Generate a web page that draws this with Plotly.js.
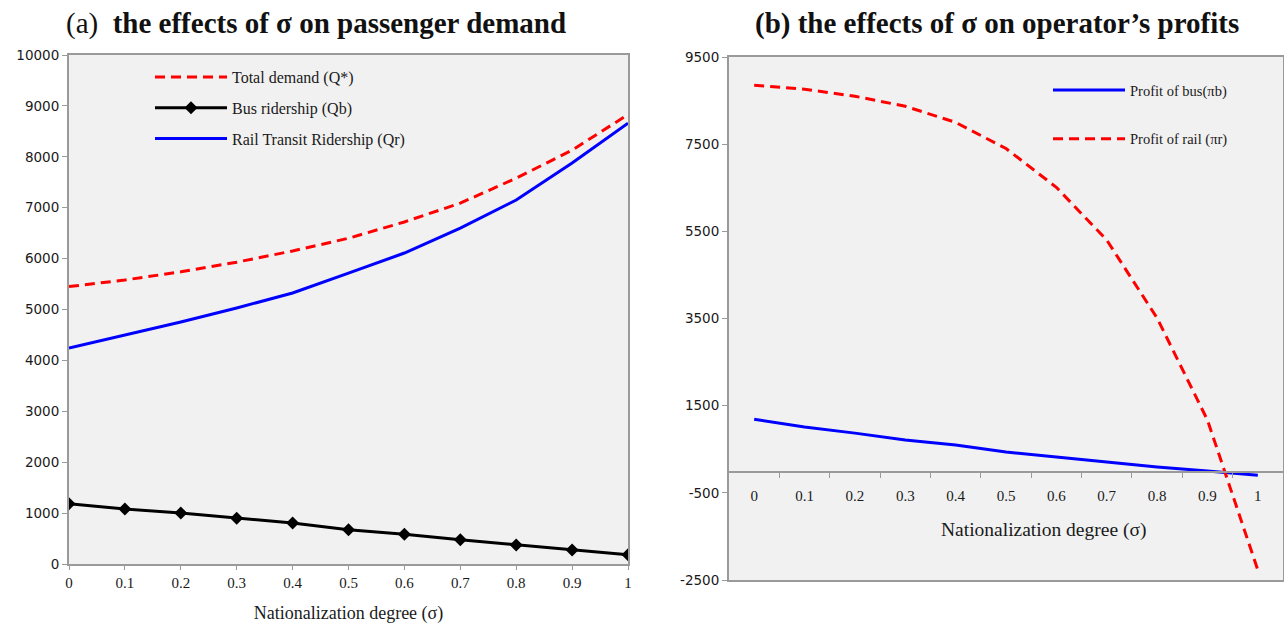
<!DOCTYPE html>
<html>
<head>
<meta charset="utf-8">
<script src="https://cdn.plot.ly/plotly-3.0.1.min.js"></script>
<style>html,body{margin:0;padding:0;background:#fff;}#chart{width:1284px;height:627px;}</style>
</head>
<body>
<div id="chart"></div>
<script>
// ---- data ----
const sigma = [0, 0.1, 0.2, 0.3, 0.4, 0.5, 0.6, 0.7, 0.8, 0.9, 1];
const sigmaTickLabels = ['0', '0.1', '0.2', '0.3', '0.4', '0.5', '0.6', '0.7', '0.8', '0.9', '1'];
const totalDemand = [5450, 5580, 5740, 5930, 6150, 6400, 6720, 7090, 7580, 8130, 8830];
const busRidership = [1185, 1080, 1000, 900, 805, 675, 585, 475, 375, 275, 180];
const railRidership = [4245, 4500, 4755, 5030, 5325, 5715, 6110, 6600, 7150, 7880, 8660];
const busProfit = [1190, 1010, 870, 710, 595, 435, 320, 205, 95, 0, -95];
const railProfit = [8850, 8760, 8600, 8370, 8000, 7400, 6510, 5300, 3510, 1170, -2270];
const demandTicks = [0, 1000, 2000, 3000, 4000, 5000, 6000, 7000, 8000, 9000, 10000];
const profitTicks = [-2500, -500, 1500, 3500, 5500, 7500, 9500];
const profitBetweenTicks = [0.05, 0.15, 0.25, 0.35, 0.45, 0.55, 0.65, 0.75, 0.85, 0.95];

const W = 1284, H = 627;
const serif = 'Liberation Serif, Times New Roman, serif';
const sans = 'DejaVu Sans, Tahoma, sans-serif';
const txt = '#1a1a1a';
const grey = '#9a9a9a';

// plot boxes (px)
const L = {x0: 69, x1: 628, y0: 55, y1: 564};
const R = {x0: 729, x1: 1283, y0: 57, y1: 580};
const dx = b => [b.x0 / W, b.x1 / W];
const dy = b => [(H - b.y1) / H, (H - b.y0) / H];
const rDom = dy(R);
const profitRange = [-2500, 9500];
const zeroPos = rDom[0] + (0 - profitRange[0]) / (profitRange[1] - profitRange[0]) * (rDom[1] - rDom[0]);

const traces = [
  {x: sigma, y: totalDemand, name: 'Total demand (Q*)', type: 'scatter', mode: 'lines',
   line: {color: '#ff0000', width: 3, dash: '10px,6px'}, xaxis: 'x', yaxis: 'y',
   legend: 'legend', legendgroup: 'a1'},
  {x: sigma, y: busRidership, name: 'Bus ridership (Qb)', type: 'scatter', mode: 'lines+markers',
   line: {color: '#000000', width: 3}, marker: {symbol: 'diamond', size: 10, color: '#000000'},
   xaxis: 'x', yaxis: 'y', legend: 'legend', legendgroup: 'a2'},
  {x: sigma, y: railRidership, name: 'Rail Transit Ridership (Qr)', type: 'scatter', mode: 'lines',
   line: {color: '#0000ff', width: 3}, xaxis: 'x', yaxis: 'y', legend: 'legend', legendgroup: 'a3'},
  {x: sigma, y: busProfit, name: 'Profit of bus(πb)', type: 'scatter', mode: 'lines',
   line: {color: '#0000ff', width: 3}, xaxis: 'x2', yaxis: 'y2', legend: 'legend2', legendgroup: 'b1'},
  {x: sigma, y: railProfit, name: 'Profit of rail (πr)', type: 'scatter', mode: 'lines',
   line: {color: '#ff0000', width: 3, dash: '10px,6px'}, xaxis: 'x2', yaxis: 'y2', legend: 'legend2', legendgroup: 'b2'},
  {x: sigma, y: busProfit, type: 'scatter', mode: 'lines', showlegend: false, hoverinfo: 'skip',
   line: {color: 'rgba(0,0,0,0)', width: 0}, xaxis: 'x3', yaxis: 'y2'}
];

const layout = {
  width: W, height: H,
  margin: {l: 0, r: 0, t: 0, b: 0},
  paper_bgcolor: '#ffffff',
  plot_bgcolor: '#f1f1f1',
  showlegend: true,
  xaxis: {
    domain: dx(L), anchor: 'y', range: [0, 1],
    tickvals: sigma, ticktext: sigmaTickLabels,
    ticks: 'outside', ticklen: 4, tickcolor: grey,
    showline: true, mirror: true, linecolor: grey, linewidth: 2,
    showgrid: false, zeroline: false,
    tickfont: {family: serif, size: 15, color: txt},
    title: {text: 'Nationalization degree (σ)', font: {family: serif, size: 18, color: txt}, standoff: 16}
  },
  yaxis: {
    domain: dy(L), anchor: 'x', range: [0, 10000],
    tickvals: demandTicks, ticktext: demandTicks.map(String),
    ticks: 'outside', ticklen: 5, tickcolor: grey,
    showline: true, mirror: true, linecolor: grey, linewidth: 2,
    showgrid: false, zeroline: false,
    tickfont: {family: sans, size: 13.5, color: txt}
  },
  xaxis2: {
    domain: dx(R), anchor: 'y2', range: [-0.05, 1.05],
    showticklabels: false, ticks: '',
    showline: true, mirror: true, linecolor: grey, linewidth: 2,
    showgrid: false, zeroline: false
  },
  xaxis3: {
    domain: dx(R), overlaying: 'x2', anchor: 'free', position: zeroPos, range: [-0.05, 1.05],
    tickvals: sigma, ticktext: sigmaTickLabels, ticks: '', ticklabelstandoff: 10,
    minor: {tickvals: profitBetweenTicks, ticks: 'outside', ticklen: 5, tickcolor: grey, tickwidth: 1},
    showline: true, linecolor: grey, linewidth: 1.5,
    showgrid: false, zeroline: false, side: 'bottom',
    tickfont: {family: serif, size: 15, color: txt}
  },
  yaxis2: {
    domain: rDom, anchor: 'x2', range: profitRange,
    tickvals: profitTicks, ticktext: profitTicks.map(String),
    ticks: 'outside', ticklen: 5, tickcolor: grey,
    showline: true, mirror: true, linecolor: grey, linewidth: 2,
    showgrid: false, zeroline: false,
    tickfont: {family: sans, size: 13.5, color: txt}
  },
  legend: {
    x: 150 / W, y: 1 - 60 / H, xanchor: 'left', yanchor: 'top',
    bgcolor: 'rgba(0,0,0,0)', borderwidth: 0, itemwidth: 72,
    traceorder: 'grouped', tracegroupgap: 7,
    font: {family: serif, size: 16, color: txt}
  },
  legend2: {
    x: 1048 / W, y: 1 - 74 / H, xanchor: 'left', yanchor: 'top',
    bgcolor: 'rgba(0,0,0,0)', borderwidth: 0, itemwidth: 72,
    traceorder: 'grouped', tracegroupgap: 27,
    font: {family: serif, size: 14.5, color: txt}
  },
  annotations: [
    {text: '(a)\u00a0\u00a0<b>the effects of σ on passenger demand</b>', xref: 'paper', yref: 'paper',
     x: 316 / W, y: 1 - 23 / H, xanchor: 'center', yanchor: 'middle', showarrow: false,
     font: {family: serif, size: 29, color: '#111'}},
    {text: '<b>(b) the effects of σ on operator’s profits</b>', xref: 'paper', yref: 'paper',
     x: 997 / W, y: 1 - 23 / H, xanchor: 'center', yanchor: 'middle', showarrow: false,
     font: {family: serif, size: 29, color: '#111'}},
    {text: 'Nationalization degree (σ)', xref: 'paper', yref: 'paper',
     x: 1043 / W, y: 1 - 530 / H, xanchor: 'center', yanchor: 'middle', showarrow: false,
     font: {family: serif, size: 19.5, color: txt}}
  ]
};

Plotly.newPlot('chart', traces, layout, {staticPlot: true, displayModeBar: false});
</script>
</body>
</html>
